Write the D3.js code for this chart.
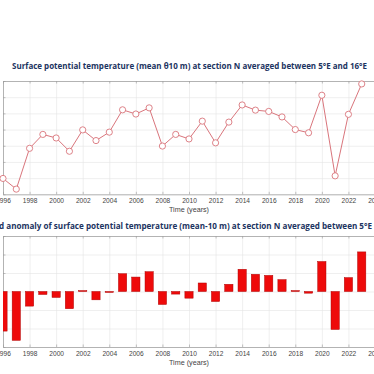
<!DOCTYPE html>
<html>
<head>
<meta charset="utf-8">
<title>Surface potential temperature at section N</title>
<script src="https://d3js.org/d3.v7.min.js"></script>
<style>
body { margin: 0; background: #fff; }
.grid line { stroke: #e4e4e4; stroke-width: 0.6px; }
.grid path { display: none; }
.axis path { stroke: #9a9a9a; stroke-width: 0.7px; }
.axis line { stroke: #9a9a9a; stroke-width: 0.6px; }
.axis text { font-family: "Liberation Sans", sans-serif; font-size: 6.6px; fill: #444; }
.xlabel { font-family: "Liberation Sans", sans-serif; font-size: 7.2px; fill: #444; }
.title { font-family: "Open Sans", sans-serif; font-weight: 700; font-size: 9px; fill: #1c3461; }
</style>
</head>
<body>
<div id="chart"></div>
<script>

// data
var years = d3.range(1996, 2024);
var temp = [12.49, 12.16, 13.42, 13.85, 13.74, 13.33, 13.99, 13.66, 13.92, 14.61,
            14.48, 14.67, 13.49, 13.85, 13.71, 14.26, 13.59, 14.23, 14.76, 14.60,
            14.56, 14.39, 14.00, 13.90, 15.06, 12.57, 14.47, 15.41];
var anomaly = [-2.14, -2.64, -0.79, -0.16, -0.32, -0.93, 0.05, -0.45, -0.05, 0.96,
               0.78, 1.07, -0.70, -0.14, -0.36, 0.46, -0.54, 0.39, 1.20, 0.93,
               0.87, 0.64, 0.05, -0.09, 1.62, -2.05, 0.75, 2.14];
var yearTicks = d3.range(1996, 2025, 2);
var tempTicks = d3.range(12, 15.51, 0.5);
var anomTicks = d3.range(-3, 3.1, 1);

var W = 374, H = 374;
var svg = d3.select("#chart").append("svg")
    .attr("width", W).attr("height", H);

// both panels share the same x range
var x = d3.scaleLinear().domain([1996, 2024]).range([3, 375]);

var defs = svg.append("defs");

function panel(top, bottom, yDomain, yTicks, id) {
  var y = d3.scaleLinear().domain(yDomain).range([bottom, top]);
  var g = svg.append("g");

  defs.append("clipPath").attr("id", id)
    .append("rect")
      .attr("x", x.range()[0]).attr("y", top)
      .attr("width", x.range()[1] - x.range()[0]).attr("height", bottom - top);

  // grid
  g.append("g").attr("class", "grid")
      .attr("transform", "translate(0," + bottom + ")")
      .call(d3.axisBottom(x).tickValues(yearTicks).tickSize(-(bottom - top)).tickFormat(""));
  g.append("g").attr("class", "grid")
      .attr("transform", "translate(" + x.range()[0] + ",0)")
      .call(d3.axisLeft(y).tickValues(yTicks).tickSize(-(x.range()[1] - x.range()[0])).tickFormat(""));

  // frame and axes, ticks inward like the original
  g.append("g").attr("class", "axis")
      .attr("transform", "translate(0," + bottom + ")")
      .call(d3.axisBottom(x).tickValues(yearTicks).tickFormat(d3.format("d"))
        .tickSizeInner(-2.5).tickSizeOuter(0).tickPadding(4));
  g.append("g").attr("class", "axis")
      .attr("transform", "translate(0," + top + ")")
      .call(d3.axisTop(x).tickValues(yearTicks).tickFormat("")
        .tickSizeInner(-2.5).tickSizeOuter(0));
  g.append("g").attr("class", "axis")
      .attr("transform", "translate(" + x.range()[0] + ",0)")
      .call(d3.axisLeft(y).tickValues(yTicks)
        .tickSizeInner(-2.5).tickSizeOuter(0).tickPadding(4));

  g.append("text").attr("class", "xlabel")
      .attr("x", 189).attr("y", bottom + 17.5)
      .attr("text-anchor", "middle")
      .text("Time (years)");

  return {g: g, y: y};
}

// top panel: line with open circles
var p1 = panel(81, 194.3, [12, 15.5], tempTicks, "clip1");
var line = d3.line()
    .x(function(d, i) { return x(years[i]); })
    .y(function(d) { return p1.y(d); });

p1.g.append("path")
    .datum(temp)
    .attr("fill", "none")
    .attr("stroke", "#d9757c")
    .attr("stroke-width", 1)
    .attr("d", line);

p1.g.selectAll("circle")
    .data(temp)
  .enter().append("circle")
    .attr("cx", function(d, i) { return x(years[i]); })
    .attr("cy", function(d) { return p1.y(d); })
    .attr("r", 3.1)
    .attr("fill", "#fff")
    .attr("stroke", "#d9757c")
    .attr("stroke-width", 0.9);

// bottom panel: bars
var p2 = panel(236, 347, [-3, 3], anomTicks, "clip2");
var half = 0.31;

p2.g.append("g")
    .attr("clip-path", "url(#clip2)")
  .selectAll("rect")
    .data(anomaly)
  .enter().append("rect")
    .attr("x", function(d, i) { return x(years[i] - half); })
    .attr("width", function(d, i) { return x(years[i] + half) - x(years[i] - half); })
    .attr("y", function(d) { return p2.y(Math.max(0, d)); })
    .attr("height", function(d) { return Math.abs(p2.y(d) - p2.y(0)); })
    .attr("fill", "#ee0a0a")
    .attr("stroke", "#b00000")
    .attr("stroke-width", 0.5);

// titles
svg.append("text").attr("class", "title")
    .attr("x", 12).attr("y", 69)
    .attr("textLength", 355).attr("lengthAdjust", "spacingAndGlyphs")
    .text("Surface potential temperature (mean \u03b810 m) at section N averaged between 5\u00b0E and 16\u00b0E");

svg.append("text").attr("class", "title")
    .attr("x", -1).attr("y", 229)
    .attr("textLength", 373).attr("lengthAdjust", "spacingAndGlyphs")
    .text("d anomaly of surface potential temperature (mean-10 m) at section N averaged between 5\u00b0E");

</script>
</body>
</html>
